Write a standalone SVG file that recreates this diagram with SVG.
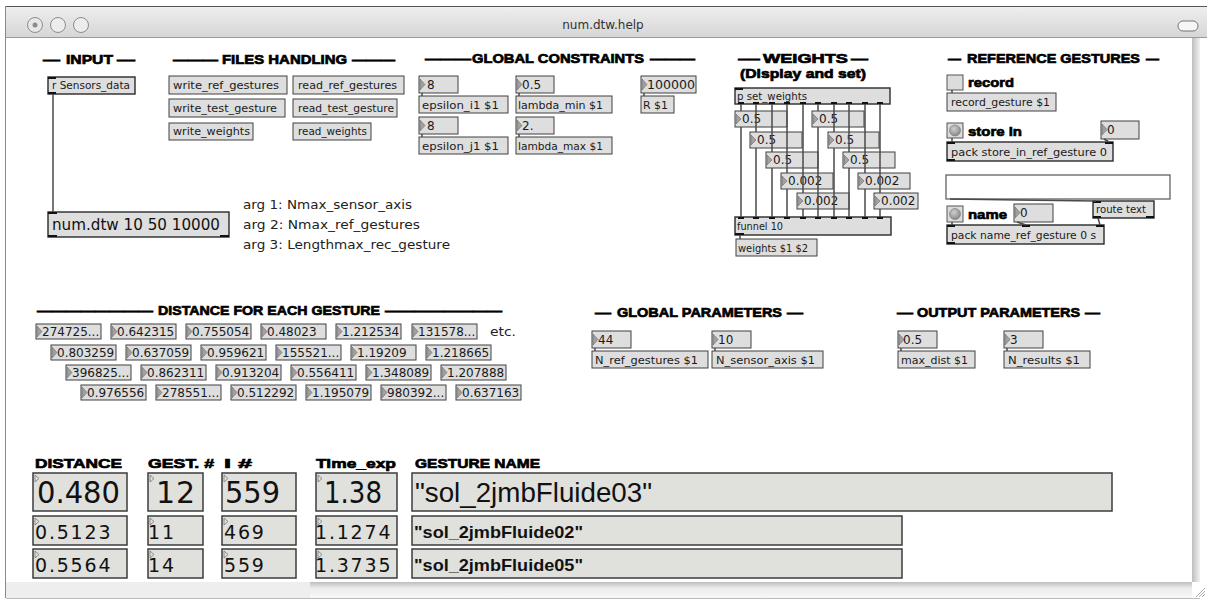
<svg xmlns="http://www.w3.org/2000/svg" width="1207" height="604" viewBox="0 0 1207 604">
<defs>
<linearGradient id="tb" x1="0" y1="0" x2="0" y2="1"><stop offset="0" stop-color="#efefef"/><stop offset="1" stop-color="#d6d6d6"/></linearGradient>
<linearGradient id="vs" x1="0" y1="0" x2="1" y2="0"><stop offset="0" stop-color="#bdbdbd"/><stop offset="1" stop-color="#f2f2f2"/></linearGradient>
<linearGradient id="hs" x1="0" y1="0" x2="0" y2="1"><stop offset="0" stop-color="#bfbfbf"/><stop offset="0.4" stop-color="#ececec"/><stop offset="1" stop-color="#f8f8f8"/></linearGradient>
<radialGradient id="bg" cx="0.4" cy="0.35" r="0.65"><stop offset="0" stop-color="#cfcfcf"/><stop offset="1" stop-color="#8a8a8a"/></radialGradient>
</defs>
<style>
.bx{fill:#dedede;stroke:#404040;stroke-width:1}
.ob{fill:#dedede;stroke:#2a2a2a;stroke-width:1.4}
.tri{fill:#a0a0a0;stroke:#6a6a6a;stroke-width:0.6}
.tri2{fill:none;stroke:#777;stroke-width:0.8}
.t{font-family:"DejaVu Sans",Verdana,sans-serif;font-size:10px;fill:#1a1a1a}
.n{font-family:"DejaVu Sans",Verdana,sans-serif;font-size:12px;fill:#1a1a1a}
.a{font-family:"DejaVu Sans",Verdana,sans-serif;font-size:12px;fill:#222}
.h{font-family:"Liberation Sans",Arial,sans-serif;font-weight:bold;font-size:13.5px;fill:#000;stroke:#000;stroke-width:0.7}
.cord{stroke:#4a4a4a;stroke-width:1.5;fill:none}
.io{fill:#111}
.big{fill:#e0e0dd;stroke:#3c3c3c;stroke-width:1.5}
.bn{font-family:"DejaVu Sans",Verdana,sans-serif;fill:#111}
.bn2{font-family:"DejaVu Sans",Verdana,sans-serif;fill:#111;font-size:19px;letter-spacing:1.8px}
.nm{font-family:"Liberation Sans",Arial,sans-serif;fill:#111}
</style>

<g id="window">
<rect x="0" y="0" width="1207" height="604" fill="#ffffff"/>
<rect x="5" y="6" width="1202" height="31" fill="url(#tb)"/>
<line x1="5" y1="6.5" x2="1207" y2="6.5" stroke="#555"/>
<line x1="5" y1="37.5" x2="1207" y2="37.5" stroke="#9a9a9a"/>
<line x1="5.5" y1="6" x2="5.5" y2="598" stroke="#8a8a8a"/>
<circle cx="35" cy="25" r="7.5" fill="#e8e8e8" stroke="#8c8c8c"/>
<circle cx="35" cy="25" r="2.5" fill="#8c8c8c"/>
<circle cx="58" cy="25" r="7.5" fill="#ececec" stroke="#8c8c8c"/>
<circle cx="81" cy="25" r="7.5" fill="#ececec" stroke="#8c8c8c"/>
<text x="603" y="29" text-anchor="middle" font-family="DejaVu Sans, sans-serif" font-size="12" fill="#333">num.dtw.help</text>
<rect x="1178" y="21" width="20" height="10" rx="5" fill="#f6f6f6" stroke="#777"/>
<rect x="1192" y="38" width="8" height="544" fill="url(#vs)"/>
<rect x="6" y="582" width="304" height="16" fill="#eeeeee"/>
<rect x="310" y="582" width="882" height="16" fill="url(#hs)"/>
<line x1="6" y1="598.5" x2="1200" y2="598.5" stroke="#bbb"/>
<g stroke="#999" stroke-width="0.8">
<line x1="1196" y1="597" x2="1205" y2="588"/>
<line x1="1199" y1="597" x2="1205" y2="591"/>
<line x1="1202" y1="597" x2="1205" y2="594"/>
</g>
</g>

<g id="headers">
<text class="h" y="64"><tspan x="43" textLength="17" lengthAdjust="spacingAndGlyphs">—</tspan><tspan x="66" textLength="47" lengthAdjust="spacingAndGlyphs">INPUT</tspan><tspan x="117" textLength="18" lengthAdjust="spacingAndGlyphs">—</tspan></text>
<text class="h" y="64"><tspan x="173" textLength="45" lengthAdjust="spacingAndGlyphs">———</tspan><tspan x="222" textLength="125" lengthAdjust="spacingAndGlyphs">FILES HANDLING</tspan><tspan x="352" textLength="43" lengthAdjust="spacingAndGlyphs">———</tspan></text>
<text class="h" y="63"><tspan x="425" textLength="46" lengthAdjust="spacingAndGlyphs">———</tspan><tspan x="472" textLength="172" lengthAdjust="spacingAndGlyphs">GLOBAL CONSTRAINTS</tspan><tspan x="650" textLength="45" lengthAdjust="spacingAndGlyphs">———</tspan></text>
<text class="h" y="63"><tspan x="738" textLength="22" lengthAdjust="spacingAndGlyphs">——</tspan><tspan x="763" textLength="85" lengthAdjust="spacingAndGlyphs">WEIGHTS</tspan><tspan x="851" textLength="17" lengthAdjust="spacingAndGlyphs">—</tspan></text>
<text class="h" x="740" y="78" textLength="126" lengthAdjust="spacingAndGlyphs">(Display and set)</text>
<text class="h" y="63"><tspan x="948" textLength="13" lengthAdjust="spacingAndGlyphs">—</tspan><tspan x="967" textLength="173" lengthAdjust="spacingAndGlyphs">REFERENCE GESTURES</tspan><tspan x="1146" textLength="13" lengthAdjust="spacingAndGlyphs">—</tspan></text>
<text class="h" y="315"><tspan x="37" textLength="116" lengthAdjust="spacingAndGlyphs">————————</tspan><tspan x="158" textLength="222" lengthAdjust="spacingAndGlyphs">DISTANCE FOR EACH GESTURE</tspan><tspan x="385" textLength="117" lengthAdjust="spacingAndGlyphs">————————</tspan></text>
<text class="h" y="317"><tspan x="595" textLength="16" lengthAdjust="spacingAndGlyphs">—</tspan><tspan x="617" textLength="165" lengthAdjust="spacingAndGlyphs">GLOBAL PARAMETERS</tspan><tspan x="787" textLength="16" lengthAdjust="spacingAndGlyphs">—</tspan></text>
<text class="h" y="317"><tspan x="897" textLength="16" lengthAdjust="spacingAndGlyphs">—</tspan><tspan x="917" textLength="163" lengthAdjust="spacingAndGlyphs">OUTPUT PARAMETERS</tspan><tspan x="1085" textLength="15" lengthAdjust="spacingAndGlyphs">—</tspan></text>
<text class="h" y="468" font-size="14"><tspan x="35" textLength="87" lengthAdjust="spacingAndGlyphs">DISTANCE</tspan><tspan x="148" textLength="66" lengthAdjust="spacingAndGlyphs">GEST. #</tspan><tspan x="224" textLength="28" lengthAdjust="spacingAndGlyphs">I #</tspan><tspan x="316" textLength="80" lengthAdjust="spacingAndGlyphs">Time_exp</tspan><tspan x="415" textLength="125" lengthAdjust="spacingAndGlyphs">GESTURE NAME</tspan></text>
</g>

<g id="input">
<g id="r_sensors">
<rect class="ob" x="48" y="77" width="87" height="17"/>
<rect class="io" x="48" y="77" width="8" height="2"/>
<rect class="io" x="48" y="92" width="8" height="2"/>
<text class="t" x="52" y="89" textLength="78" lengthAdjust="spacingAndGlyphs">r Sensors_data</text>
</g>
<g id="numdtw">
<rect class="ob" x="48" y="212" width="181" height="25"/>
<rect class="io" x="48" y="212" width="9" height="2"/>
<rect class="io" x="48" y="235" width="9" height="2"/>
<rect class="io" x="220" y="235" width="9" height="2"/>
<text class="bn" x="52" y="230" font-size="15" textLength="168" lengthAdjust="spacingAndGlyphs">num.dtw 10 50 10000</text>
</g>
<g id="args">
<text class="a" x="243" y="209" textLength="169" lengthAdjust="spacingAndGlyphs">arg 1: Nmax_sensor_axis</text>
<text class="a" x="243" y="229" textLength="177" lengthAdjust="spacingAndGlyphs">arg 2: Nmax_ref_gestures</text>
<text class="a" x="243" y="249" textLength="207" lengthAdjust="spacingAndGlyphs">arg 3: Lengthmax_rec_gesture</text>
</g>
</g>

<g id="files">
<g id="m_wrg"><rect class="bx" x="169" y="76" width="118" height="18"/><text class="t" x="173" y="89" textLength="106" lengthAdjust="spacingAndGlyphs">write_ref_gestures</text></g>
<g id="m_rrg"><rect class="bx" x="293" y="76" width="111" height="18"/><text class="t" x="298" y="89" textLength="99" lengthAdjust="spacingAndGlyphs">read_ref_gestures</text></g>
<g id="m_wtg"><rect class="bx" x="169" y="99" width="116" height="18"/><text class="t" x="173" y="112" textLength="104" lengthAdjust="spacingAndGlyphs">write_test_gesture</text></g>
<g id="m_rtg"><rect class="bx" x="293" y="99" width="104" height="18"/><text class="t" x="298" y="112" textLength="96" lengthAdjust="spacingAndGlyphs">read_test_gesture</text></g>
<g id="m_ww"><rect class="bx" x="169" y="123" width="84" height="17"/><text class="t" x="173" y="135" textLength="77" lengthAdjust="spacingAndGlyphs">write_weights</text></g>
<g id="m_rw"><rect class="bx" x="293" y="123" width="78" height="17"/><text class="t" x="298" y="135" textLength="69" lengthAdjust="spacingAndGlyphs">read_weights</text></g>
</g>

<g id="constraints">
<g id="nb_ei"><rect class="bx" x="419" y="76" width="39" height="17"/><polygon class="tri" points="420,79 425,84.5 420,90"/><text class="n" x="427" y="89">8</text></g>
<g id="m_ei"><rect class="bx" x="419" y="96" width="89" height="17"/><text class="t" x="422" y="109" textLength="77" lengthAdjust="spacingAndGlyphs">epsilon_i1 $1</text></g>
<g id="nb_ej"><rect class="bx" x="419" y="117" width="39" height="17"/><polygon class="tri" points="420,120 425,125.5 420,131"/><text class="n" x="427" y="130">8</text></g>
<g id="m_ej"><rect class="bx" x="419" y="137" width="89" height="17"/><text class="t" x="422" y="150" textLength="77" lengthAdjust="spacingAndGlyphs">epsilon_j1 $1</text></g>
<g id="nb_lmin"><rect class="bx" x="516" y="76" width="38" height="17"/><polygon class="tri" points="517,79 522,84.5 517,90"/><text class="n" x="522" y="89">0.5</text></g>
<g id="m_lmin"><rect class="bx" x="516" y="96" width="96" height="17"/><text class="t" x="518" y="109" textLength="85" lengthAdjust="spacingAndGlyphs">lambda_min $1</text></g>
<g id="nb_lmax"><rect class="bx" x="516" y="117" width="38" height="17"/><polygon class="tri" points="517,120 522,125.5 517,131"/><text class="n" x="522" y="130">2.</text></g>
<g id="m_lmax"><rect class="bx" x="516" y="137" width="96" height="17"/><text class="t" x="518" y="150" textLength="85" lengthAdjust="spacingAndGlyphs">lambda_max $1</text></g>
<g id="nb_r"><rect class="bx" x="641" y="76" width="55" height="17"/><polygon class="tri" points="642,79 647,84.5 642,90"/><text class="n" x="647" y="89" textLength="48" lengthAdjust="spacingAndGlyphs">100000</text></g>
<g id="m_r"><rect class="bx" x="641" y="96" width="33" height="17"/><text class="t" x="643" y="109" textLength="25" lengthAdjust="spacingAndGlyphs">R $1</text></g>
</g>

<g id="weights">
<g id="p_setw">
<rect class="ob" x="735" y="88" width="155" height="16"/>
<rect class="io" x="735" y="88" width="8" height="2"/>
<g class="io">
<rect x="738" y="102" width="6" height="2"/><rect x="753" y="102" width="6" height="2"/><rect x="769" y="102" width="6" height="2"/><rect x="784" y="102" width="6" height="2"/><rect x="800" y="102" width="6" height="2"/><rect x="815" y="102" width="6" height="2"/><rect x="831" y="102" width="6" height="2"/><rect x="846" y="102" width="6" height="2"/><rect x="862" y="102" width="6" height="2"/><rect x="877" y="102" width="6" height="2"/>
</g>
<text class="t" x="737" y="100" textLength="70" lengthAdjust="spacingAndGlyphs">p set_weights</text>
</g>
<g id="w1"><rect class="bx" x="735" y="111" width="52" height="16"/><polygon class="tri" points="736,114 741,119 736,124"/><text class="n" x="742" y="123">0.5</text></g>
<g id="w2"><rect class="bx" x="750" y="132" width="52" height="16"/><polygon class="tri" points="751,135 756,140 751,145"/><text class="n" x="757" y="144">0.5</text></g>
<g id="w3"><rect class="bx" x="766" y="152" width="52" height="16"/><polygon class="tri" points="767,155 772,160 767,165"/><text class="n" x="773" y="164">0.5</text></g>
<g id="w4"><rect class="bx" x="781" y="173" width="52" height="16"/><polygon class="tri" points="782,176 787,181 782,186"/><text class="n" x="788" y="185">0.002</text></g>
<g id="w5"><rect class="bx" x="797" y="193" width="52" height="16"/><polygon class="tri" points="798,196 803,201 798,206"/><text class="n" x="804" y="205">0.002</text></g>
<g id="w6"><rect class="bx" x="812" y="111" width="52" height="16"/><polygon class="tri" points="813,114 818,119 813,124"/><text class="n" x="819" y="123">0.5</text></g>
<g id="w7"><rect class="bx" x="828" y="132" width="51" height="16"/><polygon class="tri" points="829,135 834,140 829,145"/><text class="n" x="835" y="144">0.5</text></g>
<g id="w8"><rect class="bx" x="843" y="152" width="52" height="16"/><polygon class="tri" points="844,155 849,160 844,165"/><text class="n" x="850" y="164">0.5</text></g>
<g id="w9"><rect class="bx" x="858" y="173" width="52" height="16"/><polygon class="tri" points="859,176 864,181 859,186"/><text class="n" x="865" y="185">0.002</text></g>
<g id="w10"><rect class="bx" x="874" y="193" width="44" height="16"/><polygon class="tri" points="875,196 880,201 875,206"/><text class="n" x="881" y="205">0.002</text></g>
<g id="funnel">
<rect class="ob" x="735" y="217" width="156" height="18"/>
<g class="io">
<rect x="738" y="217" width="6" height="2"/><rect x="753" y="217" width="6" height="2"/><rect x="769" y="217" width="6" height="2"/><rect x="784" y="217" width="6" height="2"/><rect x="800" y="217" width="6" height="2"/><rect x="815" y="217" width="6" height="2"/><rect x="831" y="217" width="6" height="2"/><rect x="846" y="217" width="6" height="2"/><rect x="862" y="217" width="6" height="2"/><rect x="877" y="217" width="6" height="2"/>
<rect x="735" y="233" width="9" height="2"/>
</g>
<text class="t" x="737" y="230" textLength="46" lengthAdjust="spacingAndGlyphs">funnel 10</text>
</g>
<g id="m_weights"><rect class="bx" x="736" y="239" width="81" height="17"/><text class="t" x="738" y="252" textLength="70" lengthAdjust="spacingAndGlyphs">weights $1 $2</text></g>
</g>

<g id="refgestures">
<g id="tog_record"><rect x="947" y="75" width="16" height="15" fill="#dcdcdc" stroke="#555"/><text class="h" x="968" y="87" font-size="14" textLength="46" lengthAdjust="spacingAndGlyphs">record</text></g>
<g id="m_record"><rect class="bx" x="947" y="93" width="109" height="18"/><text class="t" x="951" y="106" textLength="99" lengthAdjust="spacingAndGlyphs">record_gesture $1</text></g>
<g id="bang_store"><rect x="947" y="123" width="16" height="15" fill="#dcdcdc" stroke="#555"/><circle cx="955" cy="130.5" r="5.5" fill="url(#bg)" stroke="#777" stroke-width="0.6"/><text class="h" x="968" y="136" font-size="14" textLength="54" lengthAdjust="spacingAndGlyphs">store in</text></g>
<g id="nb_store"><rect class="bx" x="1101" y="121" width="38" height="18"/><polygon class="tri" points="1102,124 1107,129.5 1102,135"/><text class="n" x="1107" y="134">0</text></g>
<g id="pack_store">
<rect class="ob" x="947" y="142" width="166" height="19"/>
<rect class="io" x="947" y="142" width="8" height="2"/><rect class="io" x="1105" y="142" width="8" height="2"/><rect class="io" x="947" y="159" width="8" height="2"/>
<text class="t" x="951" y="156" textLength="156" lengthAdjust="spacingAndGlyphs">pack store_in_ref_gesture 0</text>
</g>
<g id="textedit"><rect x="946" y="175" width="224" height="24" fill="#ffffff" stroke="#555" stroke-width="1.2"/></g>
<g id="bang_name"><rect x="947" y="206" width="16" height="16" fill="#dcdcdc" stroke="#555"/><circle cx="955" cy="214" r="5.5" fill="url(#bg)" stroke="#777" stroke-width="0.6"/><text class="h" x="968" y="219" font-size="14" textLength="39" lengthAdjust="spacingAndGlyphs">name</text></g>
<g id="nb_name"><rect class="bx" x="1014" y="204" width="39" height="18"/><polygon class="tri" points="1015,207 1020,212.5 1015,218"/><text class="n" x="1020" y="217">0</text></g>
<g id="route_text">
<rect class="ob" x="1093" y="201" width="61" height="17"/>
<rect class="io" x="1093" y="201" width="8" height="2"/><rect class="io" x="1093" y="216" width="8" height="2"/><rect class="io" x="1146" y="216" width="8" height="2"/>
<text class="t" x="1096" y="213" textLength="50" lengthAdjust="spacingAndGlyphs">route text</text>
</g>
<g id="pack_name">
<rect class="ob" x="947" y="225" width="157" height="19"/>
<rect class="io" x="947" y="225" width="8" height="2"/><rect class="io" x="1022" y="225" width="8" height="2"/><rect class="io" x="1096" y="225" width="8" height="2"/><rect class="io" x="947" y="242" width="8" height="2"/>
<text class="t" x="951" y="239" textLength="145" lengthAdjust="spacingAndGlyphs">pack name_ref_gesture 0 s</text>
</g>
</g>

<g id="distances">
<g class="dist">
<rect class="bx" x="36" y="324" width="65" height="15"/><polygon class="tri" points="37,326 42,331.5 37,337"/><text class="n" x="42" y="336">274725...</text>
<rect class="bx" x="111" y="324" width="65" height="15"/><polygon class="tri" points="112,326 117,331.5 112,337"/><text class="n" x="117" y="336">0.642315</text>
<rect class="bx" x="186" y="324" width="65" height="15"/><polygon class="tri" points="187,326 192,331.5 187,337"/><text class="n" x="192" y="336">0.755054</text>
<rect class="bx" x="261" y="324" width="65" height="15"/><polygon class="tri" points="262,326 267,331.5 262,337"/><text class="n" x="267" y="336">0.48023</text>
<rect class="bx" x="336" y="324" width="65" height="15"/><polygon class="tri" points="337,326 342,331.5 337,337"/><text class="n" x="342" y="336">1.212534</text>
<rect class="bx" x="412" y="324" width="65" height="15"/><polygon class="tri" points="413,326 418,331.5 413,337"/><text class="n" x="418" y="336">131578...</text>
</g>
<text class="a" x="490" y="336" textLength="26" lengthAdjust="spacingAndGlyphs">etc.</text>
<g class="dist">
<rect class="bx" x="51" y="345" width="65" height="15"/><polygon class="tri" points="52,347 57,352.5 52,358"/><text class="n" x="57" y="357">0.803259</text>
<rect class="bx" x="126" y="345" width="65" height="15"/><polygon class="tri" points="127,347 132,352.5 127,358"/><text class="n" x="132" y="357">0.637059</text>
<rect class="bx" x="201" y="345" width="65" height="15"/><polygon class="tri" points="202,347 207,352.5 202,358"/><text class="n" x="207" y="357">0.959621</text>
<rect class="bx" x="276" y="345" width="65" height="15"/><polygon class="tri" points="277,347 282,352.5 277,358"/><text class="n" x="282" y="357">155521...</text>
<rect class="bx" x="351" y="345" width="65" height="15"/><polygon class="tri" points="352,347 357,352.5 352,358"/><text class="n" x="357" y="357">1.19209</text>
<rect class="bx" x="426" y="345" width="65" height="15"/><polygon class="tri" points="427,347 432,352.5 427,358"/><text class="n" x="432" y="357">1.218665</text>
</g>
<g class="dist">
<rect class="bx" x="66" y="365" width="65" height="15"/><polygon class="tri" points="67,367 72,372.5 67,378"/><text class="n" x="72" y="377">396825...</text>
<rect class="bx" x="141" y="365" width="65" height="15"/><polygon class="tri" points="142,367 147,372.5 142,378"/><text class="n" x="147" y="377">0.862311</text>
<rect class="bx" x="216" y="365" width="65" height="15"/><polygon class="tri" points="217,367 222,372.5 217,378"/><text class="n" x="222" y="377">0.913204</text>
<rect class="bx" x="291" y="365" width="65" height="15"/><polygon class="tri" points="292,367 297,372.5 292,378"/><text class="n" x="297" y="377">0.556411</text>
<rect class="bx" x="366" y="365" width="65" height="15"/><polygon class="tri" points="367,367 372,372.5 367,378"/><text class="n" x="372" y="377">1.348089</text>
<rect class="bx" x="441" y="365" width="65" height="15"/><polygon class="tri" points="442,367 447,372.5 442,378"/><text class="n" x="447" y="377">1.207888</text>
</g>
<g class="dist">
<rect class="bx" x="81" y="385" width="65" height="15"/><polygon class="tri" points="82,387 87,392.5 82,398"/><text class="n" x="87" y="397">0.976556</text>
<rect class="bx" x="156" y="385" width="65" height="15"/><polygon class="tri" points="157,387 162,392.5 157,398"/><text class="n" x="162" y="397">278551...</text>
<rect class="bx" x="231" y="385" width="65" height="15"/><polygon class="tri" points="232,387 237,392.5 232,398"/><text class="n" x="237" y="397">0.512292</text>
<rect class="bx" x="306" y="385" width="65" height="15"/><polygon class="tri" points="307,387 312,392.5 307,398"/><text class="n" x="312" y="397">1.195079</text>
<rect class="bx" x="381" y="385" width="65" height="15"/><polygon class="tri" points="382,387 387,392.5 382,398"/><text class="n" x="387" y="397">980392...</text>
<rect class="bx" x="456" y="385" width="65" height="15"/><polygon class="tri" points="457,387 462,392.5 457,398"/><text class="n" x="462" y="397">0.637163</text>
</g>
</g>

<g id="globalparams">
<g id="nb_nref"><rect class="bx" x="592" y="331" width="39" height="17"/><polygon class="tri" points="593,334 598,339.5 593,345"/><text class="n" x="598" y="344">44</text></g>
<g id="m_nref"><rect class="bx" x="592" y="351" width="116" height="17"/><text class="t" x="595" y="364" textLength="103" lengthAdjust="spacingAndGlyphs">N_ref_gestures $1</text></g>
<g id="nb_nsens"><rect class="bx" x="712" y="331" width="39" height="17"/><polygon class="tri" points="713,334 718,339.5 713,345"/><text class="n" x="718" y="344">10</text></g>
<g id="m_nsens"><rect class="bx" x="712" y="351" width="111" height="17"/><text class="t" x="716" y="364" textLength="99" lengthAdjust="spacingAndGlyphs">N_sensor_axis $1</text></g>
</g>

<g id="outputparams">
<g id="nb_maxd"><rect class="bx" x="898" y="331" width="39" height="17"/><polygon class="tri" points="899,334 904,339.5 899,345"/><text class="n" x="903" y="344">0.5</text></g>
<g id="m_maxd"><rect class="bx" x="898" y="351" width="77" height="17"/><text class="t" x="901" y="364" textLength="67" lengthAdjust="spacingAndGlyphs">max_dist $1</text></g>
<g id="nb_nres"><rect class="bx" x="1004" y="331" width="39" height="17"/><polygon class="tri" points="1005,334 1010,339.5 1005,345"/><text class="n" x="1010" y="344">3</text></g>
<g id="m_nres"><rect class="bx" x="1004" y="351" width="86" height="17"/><text class="t" x="1008" y="364" textLength="72" lengthAdjust="spacingAndGlyphs">N_results $1</text></g>
</g>

<g id="results">
<g id="res1">
<rect class="big" x="33" y="473" width="94" height="38"/><polygon class="tri2" points="35,475 39,478.5 35,482"/><text class="bn" x="37" y="503" font-size="30" textLength="83" lengthAdjust="spacingAndGlyphs">0.480</text>
<rect class="big" x="148" y="473" width="55" height="38"/><polygon class="tri2" points="150,475 154,478.5 150,482"/><text class="bn" x="156" y="503" font-size="30" letter-spacing="1">12</text>
<rect class="big" x="222" y="473" width="74" height="38"/><polygon class="tri2" points="224,475 228,478.5 224,482"/><text class="bn" x="225" y="503" font-size="30" textLength="55" lengthAdjust="spacingAndGlyphs">559</text>
<rect class="big" x="316" y="473" width="81" height="38"/><polygon class="tri2" points="318,475 322,478.5 318,482"/><text class="bn" x="324" y="503" font-size="30" textLength="58" lengthAdjust="spacingAndGlyphs">1.38</text>
<rect class="big" x="412" y="473" width="700" height="38"/><text class="nm" x="415" y="502" font-size="27" textLength="237" lengthAdjust="spacingAndGlyphs">"sol_2jmbFluide03"</text>
</g>
<g id="res2">
<rect class="big" x="33" y="516" width="94" height="29"/><polygon class="tri2" points="35,518 39,521.5 35,525"/><text class="bn2" x="35" y="539">0.5123</text>
<rect class="big" x="148" y="516" width="55" height="29"/><polygon class="tri2" points="150,518 154,521.5 150,525"/><text class="bn2" x="148" y="539">11</text>
<rect class="big" x="222" y="516" width="74" height="29"/><polygon class="tri2" points="224,518 228,521.5 224,525"/><text class="bn2" x="224" y="539">469</text>
<rect class="big" x="316" y="516" width="81" height="29"/><polygon class="tri2" points="318,518 322,521.5 318,525"/><text class="bn2" x="315" y="539">1.1274</text>
<rect class="big" x="412" y="516" width="490" height="29"/><text class="nm" x="414" y="538" font-size="17" font-weight="bold" textLength="169" lengthAdjust="spacingAndGlyphs">"sol_2jmbFluide02"</text>
</g>
<g id="res3">
<rect class="big" x="33" y="549" width="94" height="29"/><polygon class="tri2" points="35,551 39,554.5 35,558"/><text class="bn2" x="35" y="572">0.5564</text>
<rect class="big" x="148" y="549" width="55" height="29"/><polygon class="tri2" points="150,551 154,554.5 150,558"/><text class="bn2" x="148" y="572">14</text>
<rect class="big" x="222" y="549" width="74" height="29"/><polygon class="tri2" points="224,551 228,554.5 224,558"/><text class="bn2" x="224" y="572">559</text>
<rect class="big" x="316" y="549" width="81" height="29"/><polygon class="tri2" points="318,551 322,554.5 318,558"/><text class="bn2" x="315" y="572">1.3735</text>
<rect class="big" x="412" y="549" width="490" height="29"/><text class="nm" x="414" y="571" font-size="17" font-weight="bold" textLength="169" lengthAdjust="spacingAndGlyphs">"sol_2jmbFluide05"</text>
</g>
</g>

<g id="connectors" class="cord">
<line x1="53" y1="94" x2="53" y2="212"/>
<line x1="422" y1="93" x2="422" y2="96"/>
<line x1="422" y1="134" x2="422" y2="137"/>
<line x1="519" y1="93" x2="519" y2="96"/>
<line x1="519" y1="134" x2="519" y2="137"/>
<line x1="644" y1="93" x2="644" y2="96"/>
<line x1="741" y1="104" x2="741" y2="111"/><line x1="741" y1="127" x2="741" y2="217"/>
<line x1="756" y1="104" x2="756" y2="132"/><line x1="756" y1="148" x2="756" y2="217"/>
<line x1="772" y1="104" x2="772" y2="152"/><line x1="772" y1="168" x2="772" y2="217"/>
<line x1="787" y1="104" x2="787" y2="173"/><line x1="787" y1="189" x2="787" y2="217"/>
<line x1="803" y1="104" x2="803" y2="193"/><line x1="803" y1="209" x2="803" y2="217"/>
<line x1="818" y1="104" x2="818" y2="111"/><line x1="818" y1="127" x2="818" y2="217"/>
<line x1="834" y1="104" x2="834" y2="132"/><line x1="834" y1="148" x2="834" y2="217"/>
<line x1="849" y1="104" x2="849" y2="152"/><line x1="849" y1="168" x2="849" y2="217"/>
<line x1="865" y1="104" x2="865" y2="173"/><line x1="865" y1="189" x2="865" y2="217"/>
<line x1="880" y1="104" x2="880" y2="193"/><line x1="880" y1="209" x2="880" y2="217"/>
<line x1="740" y1="235" x2="740" y2="239"/>
<line x1="952" y1="90" x2="952" y2="93"/>
<line x1="952" y1="138" x2="952" y2="142"/>
<line x1="1104" y1="139" x2="1109" y2="142"/>
<line x1="950" y1="199" x2="1096" y2="201"/>
<line x1="952" y1="222" x2="952" y2="225"/>
<line x1="1017" y1="222" x2="1026" y2="225"/>
<line x1="1098" y1="218" x2="1100" y2="225"/>
<line x1="595" y1="348" x2="595" y2="351"/>
<line x1="715" y1="348" x2="715" y2="351"/>
<line x1="901" y1="348" x2="901" y2="351"/>
<line x1="1007" y1="348" x2="1007" y2="351"/>
</g>
</svg>
